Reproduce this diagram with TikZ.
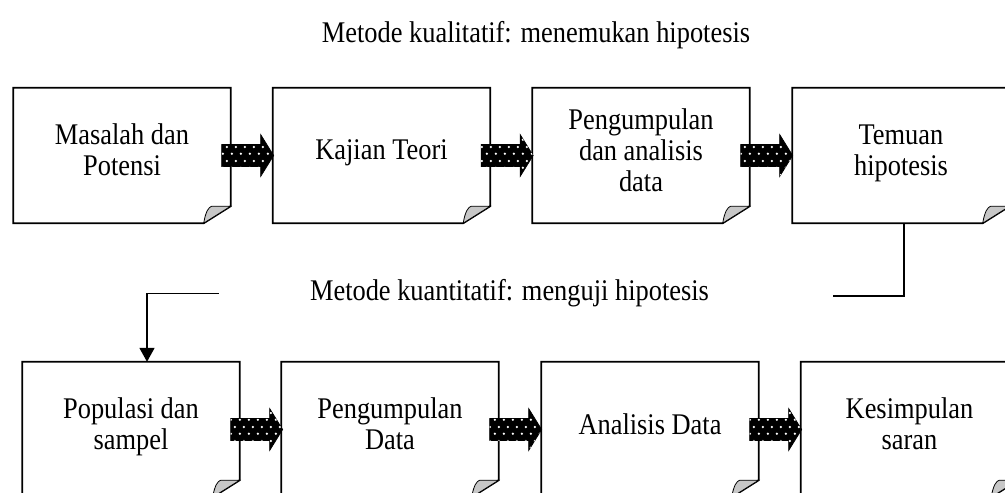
\documentclass[tikz,border=0pt]{standalone}
\usepackage{fontspec}
\setmainfont{Liberation Serif}[FakeStretch=0.88]
\usetikzlibrary{arrows.meta,patterns}

\pgfdeclarepatternformonly{arrowdots}{\pgfqpoint{0pt}{0pt}}{\pgfqpoint{8.5pt}{14pt}}{\pgfqpoint{8.5pt}{14pt}}{%
  \pgfpathcircle{\pgfqpoint{2pt}{3.5pt}}{1.3pt}%
  \pgfpathcircle{\pgfqpoint{6.25pt}{10.5pt}}{1.3pt}%
  \pgfusepath{fill}}

\tikzset{
  note/.style={minimum width=217pt,minimum height=135pt,inner sep=0pt,align=center,
    text depth=11.5pt},
  fold/.style={fill=black!22,draw=black,line width=0.8pt},
  blockarrow/.style={draw=black,line width=0.6pt,fill=black,
    postaction={pattern=arrowdots,pattern color=white}},
  heading/.style={inner sep=0pt},
  link/.style={line width=1.7pt}
}

\begin{document}
\begin{tikzpicture}[x=1pt,y=-1pt,font=\fontsize{30}{31}\selectfont]
\useasboundingbox (0,0) rectangle (1005,493);
\clip (0,0) rectangle (1005,493);
\node[heading] (kuali) at (536,35) {Metode kualitatif: menemukan hipotesis};
\node[note] (masalah) at (122,155.5) {Masalah dan\\Potensi};
\node[note] (kajian) at (381.5,155.5) {Kajian Teori};
\node[note] (kumpul) at (641,155.5) {Pengumpulan\\dan analisis\\data};
\node[note] (temuan) at (901,155.5) {Temuan\\hipotesis};
\node[note] (populasi) at (131,429.5) {Populasi dan\\sampel};
\node[note] (data) at (390,429.5) {Pengumpulan\\Data};
\node[note] (analisis) at (650,429.5) {Analisis Data};
\node[note] (simpul) at (909.5,429.5) {Kesimpulan\\saran};
\foreach \n in {masalah,kajian,kumpul,temuan,populasi,data,analisis,simpul}{
  \draw[line width=1.8pt] (\n.south west) -- (\n.north west) -- (\n.north east)
    -- ([yshift=17pt]\n.south east) -- ([xshift=-27pt]\n.south east) -- cycle;
  \filldraw[fold] ([xshift=-27pt]\n.south east)
    .. controls ([xshift=-25pt,yshift=12pt]\n.south east) and ([xshift=-22pt,yshift=16pt]\n.south east)
    .. ([xshift=-19pt,yshift=17pt]\n.south east) -- ([yshift=17pt]\n.south east) -- cycle;
}
\foreach \a in {masalah,kajian,kumpul,populasi,data,analisis}
  \path[blockarrow] ([xshift=-9pt]\a.east) ++(0,11) -- ++(39,0) -- ++(0,10) -- ++(13,-21)
    -- ++(-13,-21) -- ++(0,10) -- ++(-39,0) -- cycle;
\node[heading,fill=white,minimum width=581pt,minimum height=61pt] (kuanti) at (509.5,293.5)
  {Metode kuantitatif: menguji hipotesis};
\coordinate (ujung) at (833,296);
\draw[link] ([xshift=3pt]temuan.south) |- (ujung);
\draw[link,-{Triangle[width=15pt,length=14pt]}] (kuanti.west) -| ([xshift=16pt]populasi.north);
\end{tikzpicture}
\end{document}
